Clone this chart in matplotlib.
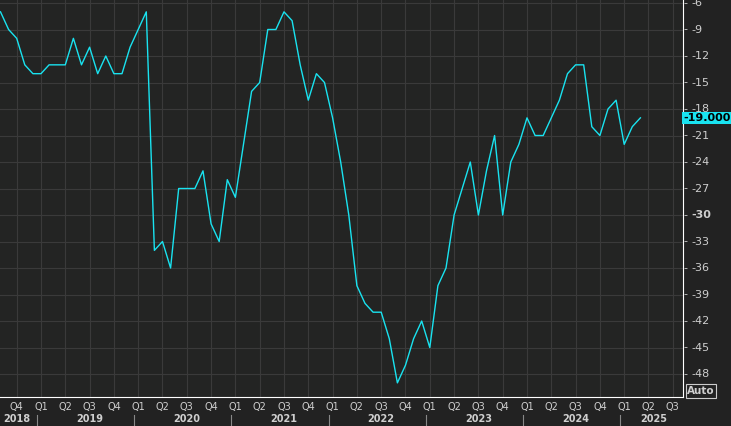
import numpy as np
import matplotlib.pyplot as plt

# monthly values, Aug 2018 .. Mar 2025
values = [-7, -9, -10, -13, -14, -14, -13, -13, -13, -10, -13, -11, -14, -12, -14, -14,
          -11, -9, -7, -34, -33, -36, -27, -27, -27, -25, -31, -33, -26, -28, -22, -16,
          -15, -9, -9, -7, -8, -13, -17, -14, -15, -19, -24, -30, -38, -40, -41, -41,
          -44, -49, -47, -44, -42, -45, -38, -36, -30, -27, -24, -30, -25, -21, -30, -24,
          -22, -19, -21, -21, -19, -17, -14, -13, -13, -20, -21, -18, -17, -22, -20, -19]
start_year, start_month = 2018, 8
y_ticks = list(range(-6, -49, -3))
last_label = "-19.000"

BG = "#222222"
GRID = "#3a3a3a"
TXT = "#cfcfcf"
LINE = "#19e3f0"

fig = plt.figure(figsize=(7.31, 4.26), dpi=100, facecolor=BG)
ax = fig.add_axes([0, 1 - 397 / 426, 683 / 731, 397 / 426], facecolor="#232423")

months = np.arange(len(values))
ax.plot(months, values, color=LINE, lw=1.0)
ax.set_xlim(-0.06, 84.26)
ax.set_ylim(-50.6, -5.66)

# quarter positions (month index)
q_pos, q_lab = [], []
for k in range(2, 85, 3):
    mo = (start_month - 1 + k) % 12 + 1
    q_pos.append(k)
    q_lab.append("Q%d" % ((mo - 1) // 3 + 1))
ax.set_xticks(q_pos)
ax.set_xticklabels([])
ax.set_yticks(y_ticks)
ax.grid(True, color=GRID, lw=0.8)
ax.tick_params(length=0)
ax.yaxis.tick_right()
ax.set_yticklabels([])
for s in ["top", "left"]:
    ax.spines[s].set_visible(False)
ax.spines["right"].set_color("white")
ax.spines["bottom"].set_color("white")

trans = ax.get_xaxis_transform()
for p, l in zip(q_pos, q_lab):
    ax.text(p, -0.012, l, transform=trans, color=TXT, fontsize=7, ha="center", va="top")

# year labels and separators
year_bounds = [-2] + [k for k in range(0, 90) if (start_month - 1 + k) % 12 == 0]
for i, b in enumerate(year_bounds[:-1]):
    yr = start_year + i
    lo = max(b, -0.06)
    hi = min(year_bounds[i + 1], 84.26)
    ax.text((lo + hi) / 2 if i else 2.0, -0.043, str(yr), transform=trans, color=TXT,
            fontsize=7, fontweight="bold", ha="center", va="top")
    if i:
        ax.plot([b - 0.5, b - 0.5], [-0.045, -0.08], transform=trans, color="#888888",
                lw=0.8, clip_on=False)

for t in y_ticks:
    ax.text(1.0, t, "-", transform=ax.get_yaxis_transform(), color=TXT, fontsize=8, va="center")
    ax.text(1.012, t, str(t), transform=ax.get_yaxis_transform(), color=TXT, fontsize=8,
            va="center", fontweight="bold" if t == -30 else "normal")

ax.text(1.0, values[-1], last_label, transform=ax.get_yaxis_transform(), color="black",
        fontsize=8, fontweight="bold", va="center",
        bbox=dict(boxstyle="square,pad=0.1", fc=LINE, ec="none"))
fig.text(0.94, 0.075, "Auto", color=TXT, fontsize=7.5, fontweight="bold",
         bbox=dict(boxstyle="square,pad=0.15", fc=BG, ec="#cccccc", lw=0.8))

fig.savefig("out.png", dpi=100, facecolor=BG)
